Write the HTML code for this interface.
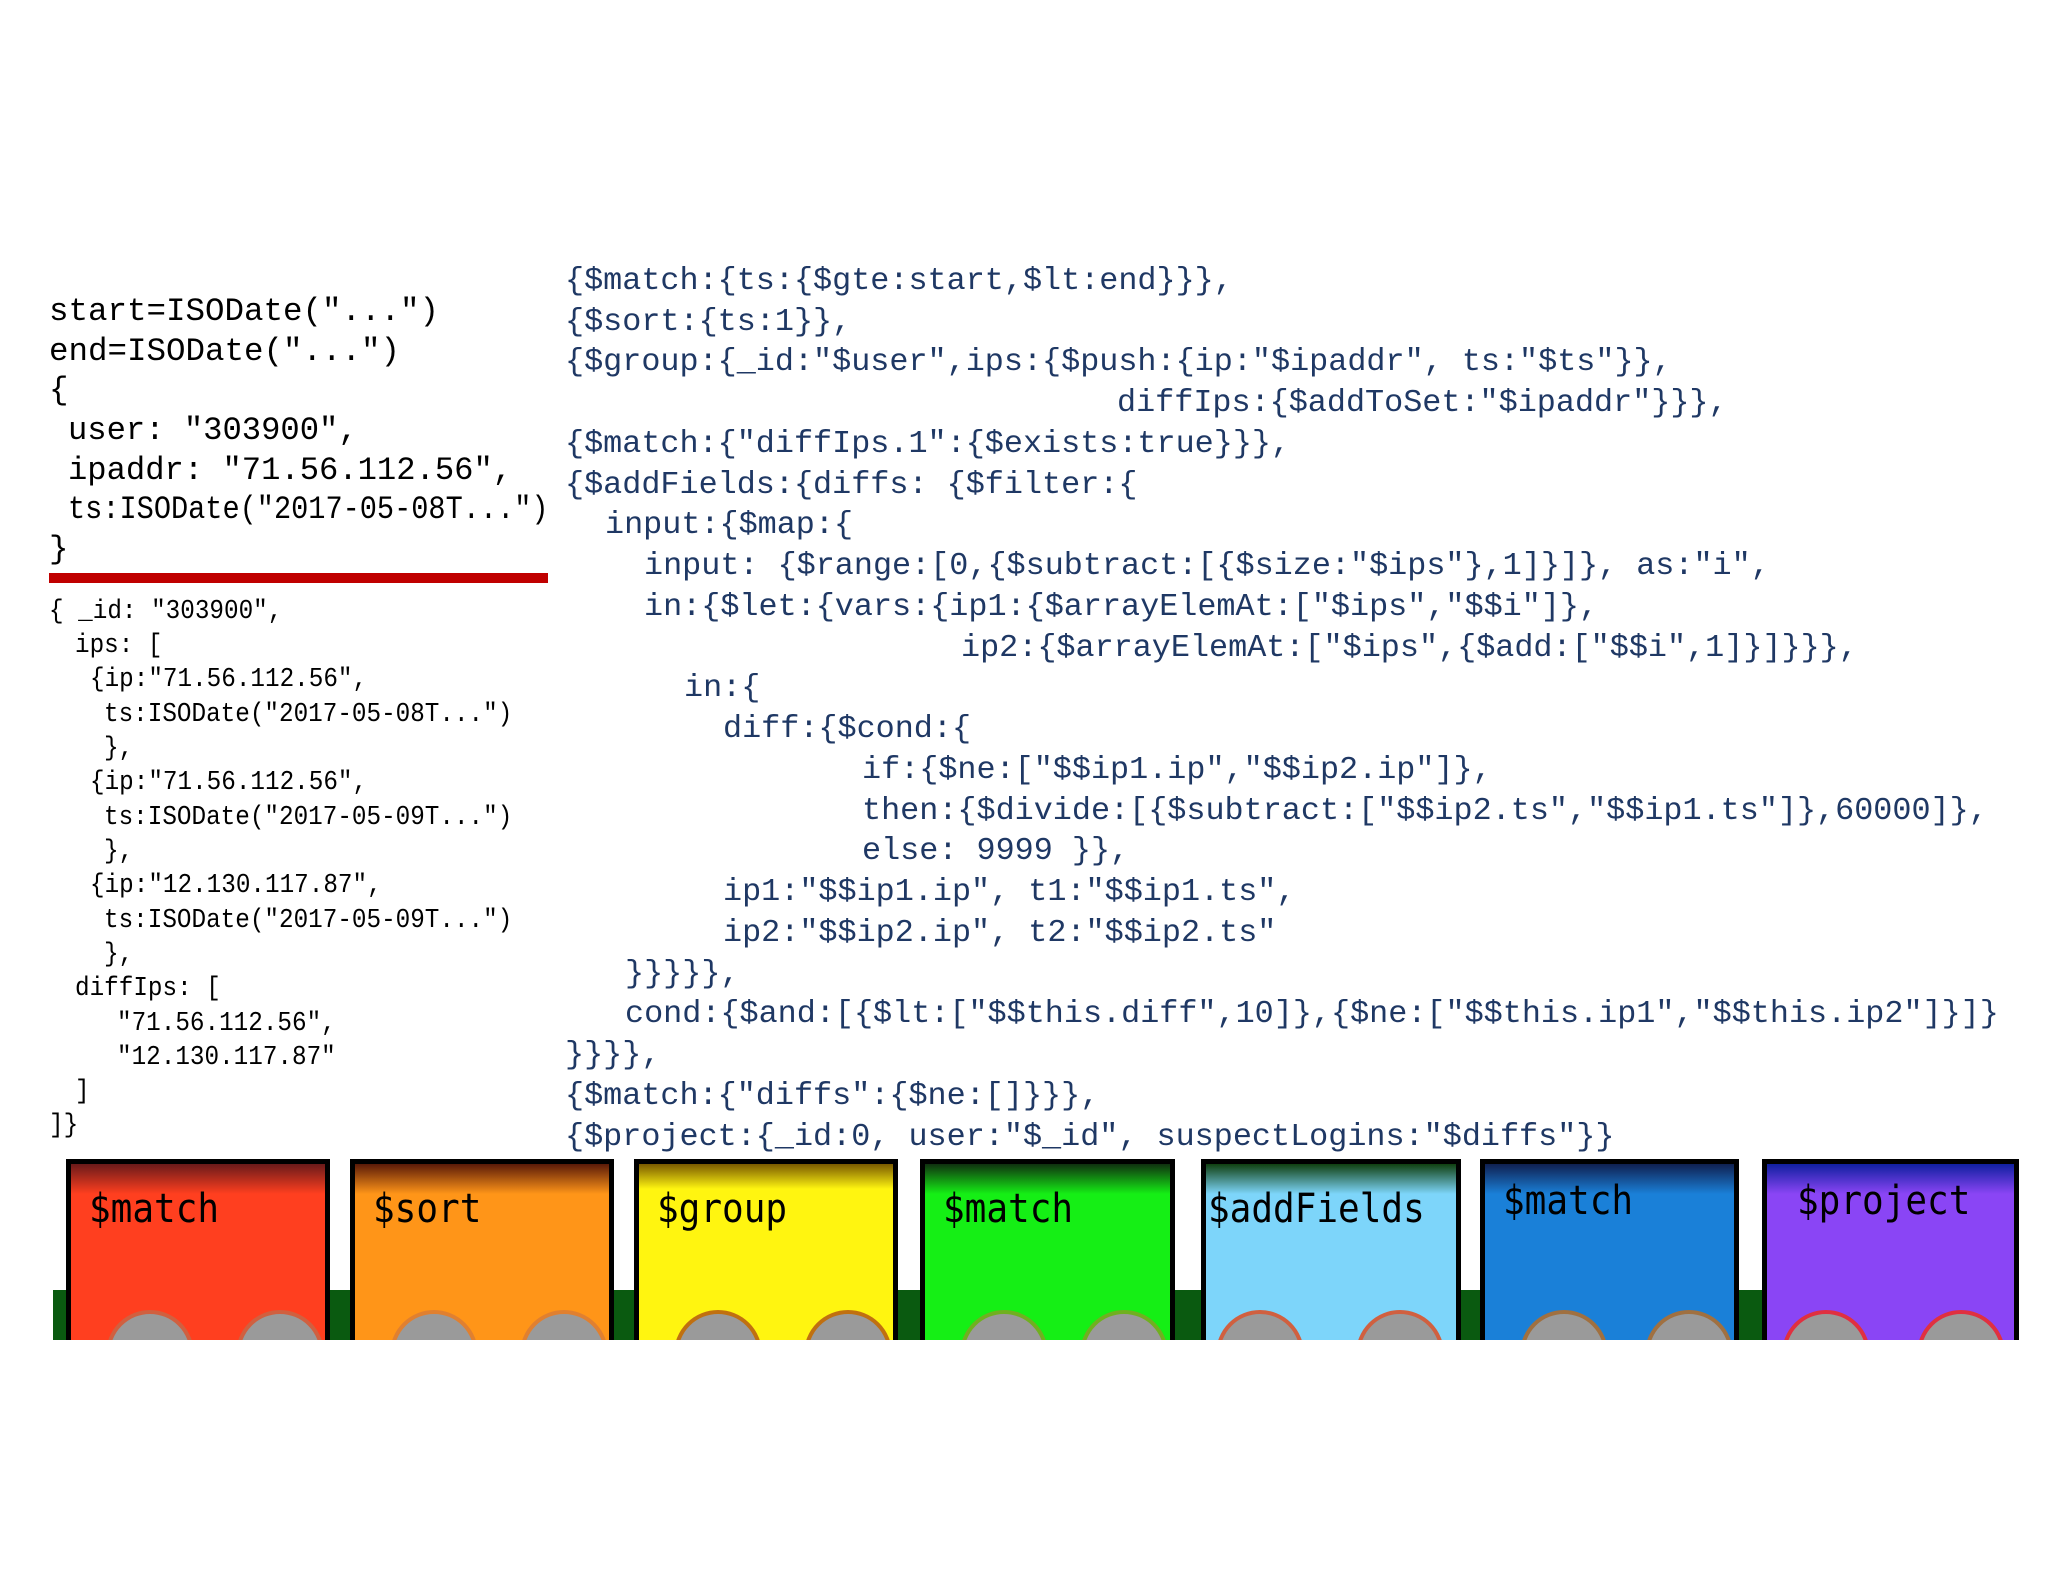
<!DOCTYPE html>
<html><head><meta charset="utf-8"><style>
html,body{margin:0;padding:0;background:#fff;}
#c{position:relative;width:2048px;height:1582px;overflow:hidden;background:#fff;}
.l{position:absolute;white-space:pre;font-family:"Liberation Mono",monospace;transform-origin:left top;}
.a{font-size:32.5px;color:#000;}
.b{font-size:27px;color:#000;transform:scaleX(0.9);}
.r{font-size:31.8px;color:#1f3864;}
.car{position:absolute;top:1159px;height:181px;box-sizing:border-box;border:5px solid #000;border-bottom:none;overflow:hidden;}
.car span{position:absolute;left:18px;top:22px;font-family:"DejaVu Sans Mono","Liberation Mono",monospace;font-size:40px;color:#000;transform:scaleX(0.9);transform-origin:left;}
.w{position:absolute;bottom:-58px;width:80px;height:80px;border-radius:50%;background:#9a9a9a;border:4px solid #d06040;}
.g{position:absolute;top:1290px;height:50px;background:#0a5a10;}
</style></head><body><div id="c">
<div class="l a" style="left:49px;top:293px">start=ISODate("...")</div>
<div class="l a" style="left:49px;top:333px">end=ISODate("...")</div>
<div class="l a" style="left:49px;top:372px">{</div>
<div class="l a" style="left:68px;top:412px;transform:scaleX(0.99)">user: "303900",</div>
<div class="l a" style="left:68px;top:452px;transform:scaleX(0.99)">ipaddr: "71.56.112.56",</div>
<div class="l a" style="left:68px;top:491px;transform:scaleX(0.88)">ts:ISODate("2017-05-08T...")</div>
<div class="l a" style="left:49px;top:531px">}</div>
<div style="position:absolute;left:49px;top:573px;width:499px;height:10px;background:#c00000"></div>
<div class="l b" style="left:49px;top:597px">{ _id: "303900",</div>
<div class="l b" style="left:75px;top:631px">ips: [</div>
<div class="l b" style="left:90px;top:665px">{ip:"71.56.112.56",</div>
<div class="l b" style="left:104px;top:700px">ts:ISODate("2017-05-08T...")</div>
<div class="l b" style="left:104px;top:734px">},</div>
<div class="l b" style="left:90px;top:768px">{ip:"71.56.112.56",</div>
<div class="l b" style="left:104px;top:803px">ts:ISODate("2017-05-09T...")</div>
<div class="l b" style="left:104px;top:837px">},</div>
<div class="l b" style="left:90px;top:871px">{ip:"12.130.117.87",</div>
<div class="l b" style="left:104px;top:906px">ts:ISODate("2017-05-09T...")</div>
<div class="l b" style="left:104px;top:940px">},</div>
<div class="l b" style="left:75px;top:974px">diffIps: [</div>
<div class="l b" style="left:117px;top:1009px">"71.56.112.56",</div>
<div class="l b" style="left:117px;top:1043px">"12.130.117.87"</div>
<div class="l b" style="left:75px;top:1077px">]</div>
<div class="l b" style="left:49px;top:1111px">]}</div>
<div style="position:absolute;left:0;top:0;width:2023px;height:1582px;overflow:hidden">
<div class="l r" style="left:565px;top:263px">{$match:{ts:{$gte:start,$lt:end}}},</div>
<div class="l r" style="left:565px;top:304px">{$sort:{ts:1}},</div>
<div class="l r" style="left:565px;top:344px">{$group:{_id:"$user",ips:{$push:{ip:"$ipaddr", ts:"$ts"}},</div>
<div class="l r" style="left:1117px;top:385px">diffIps:{$addToSet:"$ipaddr"}}},</div>
<div class="l r" style="left:565px;top:426px">{$match:{"diffIps.1":{$exists:true}}},</div>
<div class="l r" style="left:565px;top:467px">{$addFields:{diffs: {$filter:{</div>
<div class="l r" style="left:605px;top:507px">input:{$map:{</div>
<div class="l r" style="left:644px;top:548px">input: {$range:[0,{$subtract:[{$size:"$ips"},1]}]}, as:"i",</div>
<div class="l r" style="left:644px;top:589px">in:{$let:{vars:{ip1:{$arrayElemAt:["$ips","$$i"]},</div>
<div class="l r" style="left:961px;top:630px">ip2:{$arrayElemAt:["$ips",{$add:["$$i",1]}]}}},</div>
<div class="l r" style="left:684px;top:670px">in:{</div>
<div class="l r" style="left:723px;top:711px">diff:{$cond:{</div>
<div class="l r" style="left:862px;top:752px">if:{$ne:["$$ip1.ip","$$ip2.ip"]},</div>
<div class="l r" style="left:862px;top:793px">then:{$divide:[{$subtract:["$$ip2.ts","$$ip1.ts"]},60000]},</div>
<div class="l r" style="left:862px;top:833px">else: 9999 }},</div>
<div class="l r" style="left:723px;top:874px">ip1:"$$ip1.ip", t1:"$$ip1.ts",</div>
<div class="l r" style="left:723px;top:915px">ip2:"$$ip2.ip", t2:"$$ip2.ts"</div>
<div class="l r" style="left:625px;top:956px">}}}}},</div>
<div class="l r" style="left:625px;top:996px">cond:{$and:[{$lt:["$$this.diff",10]},{$ne:["$$this.ip1","$$this.ip2"]}]}</div>
<div class="l r" style="left:565px;top:1037px">}}}},</div>
<div class="l r" style="left:565px;top:1078px">{$match:{"diffs":{$ne:[]}}},</div>
<div class="l r" style="left:565px;top:1119px">{$project:{_id:0, user:"$_id", suspectLogins:"$diffs"}}</div>
</div>
<div class="g" style="left:53px;width:1965px"></div>
<div class="car" style="left:66px;width:264px;background:linear-gradient(#6a1a1a 0,#ff3f1f 30px,#ff3f1f)"><span>$match</span><div class="w" style="left:35px"></div><div class="w" style="left:165px"></div></div>
<div class="car" style="left:350px;width:264px;background:linear-gradient(#5a1a08 0,#ff9518 30px,#ff9518)"><span>$sort</span><div class="w" style="left:35px;border-color:#e08030"></div><div class="w" style="left:165px;border-color:#e08030"></div></div>
<div class="car" style="left:634px;width:264px;background:linear-gradient(#7a5a00 0,#fff510 25px,#fff510)"><span>$group</span><div class="w" style="left:35px;border-color:#c07010"></div><div class="w" style="left:165px;border-color:#c07010"></div></div>
<div class="car" style="left:920px;width:255px;background:linear-gradient(#103010 0,#15ef15 30px,#15ef15)"><span>$match</span><div class="w" style="left:35px;border-color:#70b020"></div><div class="w" style="left:155px;border-color:#70b020"></div></div>
<div class="car" style="left:1201px;width:260px;background:linear-gradient(#104010 0,#7dd5fa 30px,#7dd5fa)"><span style="left:2px">$addFields</span><div class="w" style="left:10px"></div><div class="w" style="left:150px"></div></div>
<div class="car" style="left:1480px;width:259px;background:linear-gradient(#102050 0,#1a80d8 30px,#1a80d8)"><span style="top:14px">$match</span><div class="w" style="left:35px;border-color:#a07040"></div><div class="w" style="left:160px;border-color:#a07040"></div></div>
<div class="car" style="left:1762px;width:257px;background:linear-gradient(#1020a0 0,#8a45f5 30px,#8a45f5)"><span style="left:30px;top:14px">$project</span><div class="w" style="left:15px;border-color:#e03040"></div><div class="w" style="left:150px;border-color:#e03040"></div></div>
</div></body></html>
